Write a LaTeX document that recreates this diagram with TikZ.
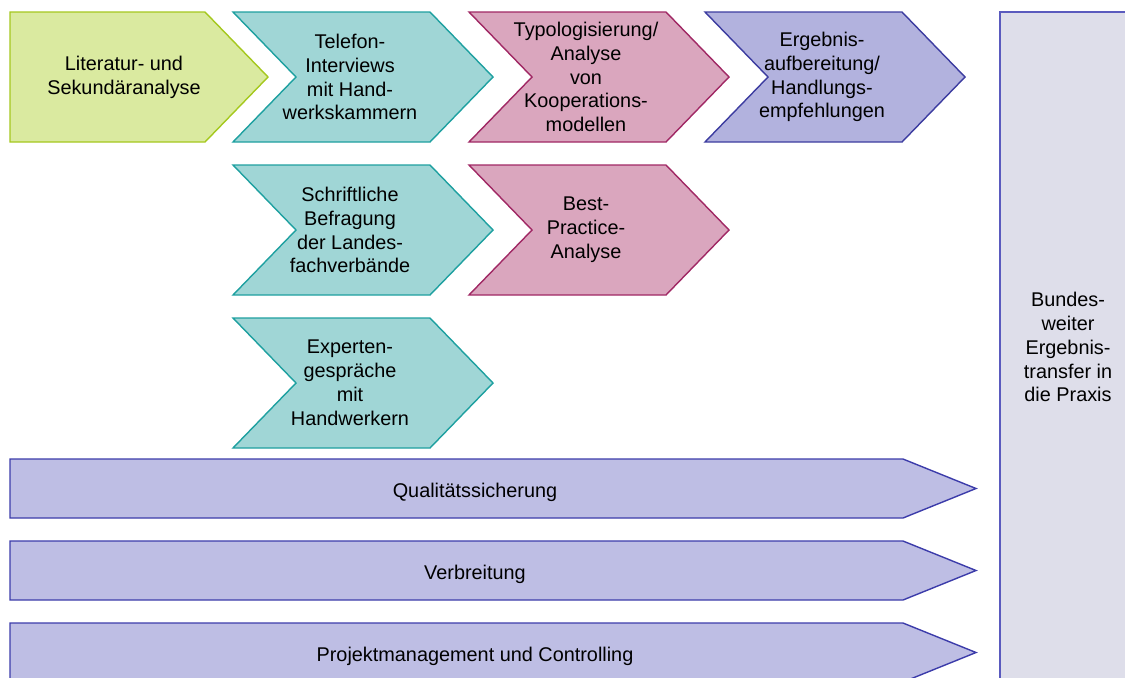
\documentclass[tikz,border=0pt]{standalone}
\usepackage{fontspec}
\setmainfont{Liberation Sans}
\usepackage{tikz}
\usetikzlibrary{positioning}
\definecolor{grnline}{RGB}{165,200,30}
\definecolor{grnfill}{RGB}{218,234,160}
\definecolor{tealline}{RGB}{30,160,160}
\definecolor{tealfill}{RGB}{160,214,214}
\definecolor{magline}{RGB}{160,40,100}
\definecolor{magfill}{RGB}{218,166,190}
\definecolor{blueline}{RGB}{60,60,160}
\definecolor{bluefill}{RGB}{178,178,222}
\definecolor{barline}{RGB}{60,60,170}
\definecolor{barfill}{RGB}{190,190,228}
\definecolor{boxline}{RGB}{90,90,190}
\definecolor{boxfill}{RGB}{222,222,234}
\tikzset{
  shapeline/.style={line width=0.8pt, line join=miter},
  greenchev/.style={shapeline, draw=grnline, fill=grnfill},
  tealchev/.style={shapeline, draw=tealline, fill=tealfill},
  magchev/.style={shapeline, draw=magline, fill=magfill},
  bluechev/.style={shapeline, draw=blueline, fill=bluefill},
  taskbar/.style={shapeline, draw=barline, fill=barfill},
  transferbox/.style={shapeline, draw=boxline, fill=boxfill},
  lbl/.style={align=center, inner sep=0pt, font=\fontsize{11.3}{13.6}\selectfont}
}
% chevron: left x, top y, style, name, text
\newcommand{\chevbox}[5]{%
  \draw[#3] (#1,#2) -- ++(197,0) -- ++(63,65) -- ++(-63,65) -- ++(-197,0) -- ++(63,-65) -- cycle;
  \node[lbl] (#4) at (#1+117,#2+65) {#5};}
% long bar arrow: top y, style, name, text
\newcommand{\barrow}[4]{%
  \draw[#2] (10,#1) -- (903,#1) -- (976,#1+29.5) -- (903,#1+59) -- (10,#1+59) -- cycle;
  \node[lbl] (#3) at (475,#1+33) {#4};}

\begin{document}
\begin{tikzpicture}[x=0.02cm, y=-0.02cm]
  \useasboundingbox (0,0) rectangle (1125,677);
  \clip (0,0) rectangle (1125,677);

  % first row
  \draw[greenchev] (10,12) -- (205,12) -- (268,77) -- (205,142) -- (10,142) -- cycle;
  \node[lbl] (lit) at (124,77) {Literatur- und\\Sekundäranalyse};
  \chevbox{233}{12}{tealchev}{tel}{Telefon-\\Interviews\\mit Hand-\\werkskammern}
  \chevbox{469}{12}{magchev}{typ}{Typologisierung/\\Analyse\\von\\Kooperations-\\modellen}
  \chevbox{705}{12}{bluechev}{erg}{Ergebnis-\\aufbereitung/\\Handlungs-\\empfehlungen}

  % second and third row
  \chevbox{233}{165}{tealchev}{befr}{Schriftliche\\Befragung\\der Landes-\\fachverbände}
  \chevbox{469}{165}{magchev}{best}{Best-\\Practice-\\Analyse}
  \chevbox{233}{318}{tealchev}{expert}{Experten-\\gespräche\\mit\\Handwerkern}

  % bars
  \barrow{459}{taskbar}{qual}{Qualitätssicherung}
  \barrow{541}{taskbar}{verb}{Verbreitung}
  \barrow{623}{taskbar}{proj}{Projektmanagement und Controlling}

  % transfer box
  \draw[transferbox] (1000,12) rectangle (1140,700);
  \node[lbl] (transfer) at (1068,347) {Bundes-\\weiter\\Ergebnis-\\transfer in\\die Praxis};
\end{tikzpicture}
\end{document}
